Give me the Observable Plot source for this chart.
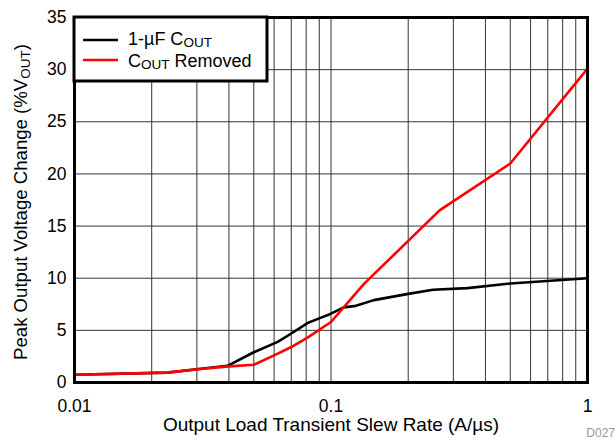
<!DOCTYPE html>
<html>
<head>
<meta charset="utf-8">
<script src="https://cdn.jsdelivr.net/npm/d3@7"></script>
<script src="https://cdn.jsdelivr.net/npm/@observablehq/plot@0.6"></script>
<style>
  html, body { margin: 0; padding: 0; background: #fff; }
  svg { font-family: "Liberation Sans", Arial, sans-serif; }
</style>
</head>
<body>
<div id="chart"></div>
<script>
// Series: 1-µF COUT (black)
const slewCap = [0.01, 0.023, 0.0395, 0.05, 0.062, 0.07, 0.081, 0.091, 0.1, 0.112, 0.125, 0.147, 0.2, 0.25, 0.34, 0.5, 1];
const peakCap = [0.75, 0.95, 1.6, 2.9, 3.9, 4.7, 5.7, 6.2, 6.6, 7.2, 7.35, 7.9, 8.5, 8.9, 9.05, 9.5, 10.0];
// Series: COUT removed (red)
const slewNoCap = [0.01, 0.023, 0.031, 0.04, 0.05, 0.06, 0.07, 0.081, 0.1, 0.135, 0.265, 0.5, 1];
const peakNoCap = [0.75, 0.95, 1.3, 1.55, 1.7, 2.6, 3.4, 4.3, 5.8, 9.5, 16.5, 21.0, 30.1];

const xTicks = [0.01, 0.1, 1];
const xTickLabels = ["0.01", "0.1", "1"];
const yTicks = [0, 5, 10, 15, 20, 25, 30, 35];
const xGrid = [0.02,0.03,0.04,0.05,0.06,0.07,0.08,0.09,0.1,0.2,0.3,0.4,0.5,0.6,0.7,0.8,0.9];
const yGrid = [5, 10, 15, 20, 25, 30];

const capData = slewCap.map((x, i) => ({x, y: peakCap[i]}));
const noCapData = slewNoCap.map((x, i) => ({x, y: peakNoCap[i]}));

const plot = Plot.plot({
  width: 616,
  height: 441,
  marginLeft: 74,
  marginRight: 29,
  marginTop: 17,
  marginBottom: 59,
  style: {fontFamily: "'Liberation Sans', Arial, sans-serif", background: "#fff"},
  x: {type: "log", domain: [0.01, 1]},
  y: {domain: [0, 35]},
  marks: [
    Plot.ruleX(xGrid, {stroke: "#333", strokeWidth: 1}),
    Plot.ruleY(yGrid, {stroke: "#333", strokeWidth: 1}),
    Plot.line(capData, {x: "x", y: "y", stroke: "#000", strokeWidth: 2.6}),
    Plot.line(noCapData, {x: "x", y: "y", stroke: "#ff0000", strokeWidth: 2.6}),
    Plot.frame({stroke: "#000", strokeWidth: 3}),
    Plot.axisX({ticks: xTicks, tickSize: 0, tickPadding: 17, fontSize: 17.5,
      tickFormat: (d) => xTickLabels[xTicks.indexOf(d)], label: null}),
    Plot.axisY({ticks: yTicks, tickSize: 0, tickPadding: 8, fontSize: 17.5, label: null})
  ]
});
document.getElementById("chart").appendChild(plot);

const svg = d3.select(plot);
svg.selectAll("g[aria-label='x-axis tick label'] text, g[aria-label='y-axis tick label'] text").attr("fill", "#000");

// Axis titles
svg.append("text")
  .attr("x", 331).attr("y", 431)
  .attr("text-anchor", "middle")
  .attr("font-size", 19).attr("fill", "#000")
  .text("Output Load Transient Slew Rate (A/µs)");

const yt = svg.append("text")
  .attr("transform", "translate(27,202) rotate(-90)")
  .attr("text-anchor", "middle")
  .attr("font-size", 18.6).attr("fill", "#000");
yt.append("tspan").text("Peak Output Voltage Change (%V");
yt.append("tspan").attr("font-size", 13.5).attr("dy", 3).text("OUT");
yt.append("tspan").attr("dy", -3).text(")");

// Legend
const lg = svg.append("g").attr("text-anchor", "start");
lg.append("rect").attr("x", 74).attr("y", 17).attr("width", 193).attr("height", 64)
  .attr("fill", "#fff").attr("stroke", "#000").attr("stroke-width", 3);
lg.append("line").attr("x1", 83).attr("x2", 118).attr("y1", 40).attr("y2", 40)
  .attr("stroke", "#000").attr("stroke-width", 2.6);
lg.append("line").attr("x1", 83).attr("x2", 118).attr("y1", 60).attr("y2", 60)
  .attr("stroke", "#ff0000").attr("stroke-width", 2.6);
const t1 = lg.append("text").attr("x", 128).attr("y", 45).attr("font-size", 18).attr("fill", "#000").attr("text-anchor", "start");
t1.append("tspan").text("1-µF C");
t1.append("tspan").attr("font-size", 13.5).attr("dy", 2).text("OUT");
const t2 = lg.append("text").attr("x", 128).attr("y", 67).attr("font-size", 18).attr("fill", "#000").attr("text-anchor", "start");
t2.append("tspan").text("C");
t2.append("tspan").attr("font-size", 13.5).attr("dy", 2).text("OUT");
t2.append("tspan").attr("dy", -2).text(" Removed");

// Figure code
svg.append("text").attr("x", 615).attr("y", 437).attr("text-anchor", "end")
  .attr("font-size", 12).attr("fill", "#999").text("D027");
</script>
</body>
</html>
